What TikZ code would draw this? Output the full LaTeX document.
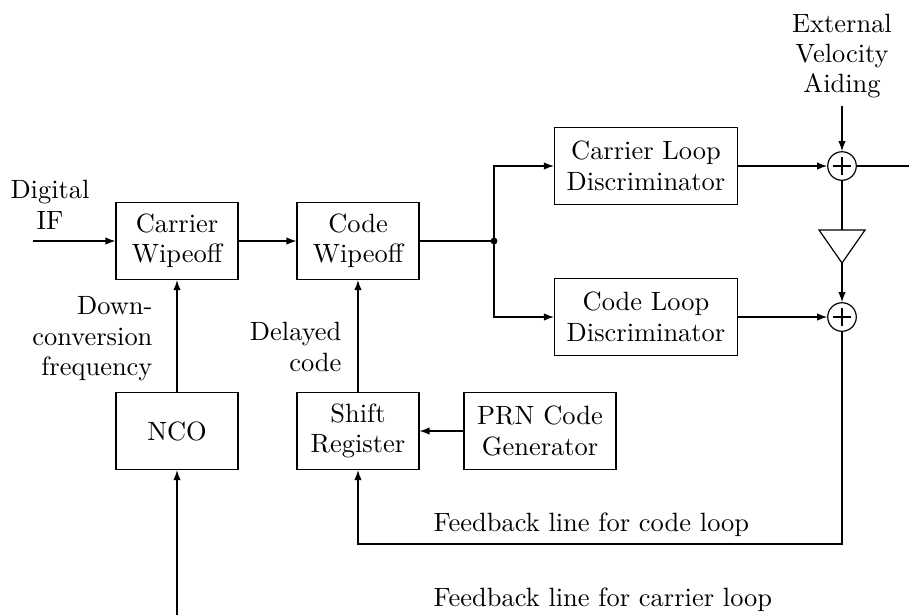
\documentclass[tikz,border=0pt]{standalone}
\usetikzlibrary{arrows.meta}
\begin{document}
\begin{tikzpicture}[x=0.3782pt,y=-0.3782pt,
  font=\fontsize{10pt}{11.5pt}\selectfont,
  line width=0.45pt,
  >={Latex[length=3.8pt,width=2.8pt]},
  block/.style={draw,align=center,inner sep=0pt,minimum height=29.1pt},
  smallblock/.style={block,minimum width=46.1pt},
  wideblock/.style={block,minimum width=69.2pt},
  sumnode/.style={draw,circle,minimum size=10.8pt,inner sep=0pt,
    path picture={
      \draw[line width=0.5pt]
        ([xshift=-3.4pt]path picture bounding box.center) -- ([xshift=3.4pt]path picture bounding box.center)
        ([yshift=-3.4pt]path picture bounding box.center) -- ([yshift=3.4pt]path picture bounding box.center);}},
  lbl/.style={align=center,inner sep=0pt}
]
\useasboundingbox (0,0) rectangle (909,615);

% processing blocks
\node[smallblock] (cw) at (177,241) {Carrier\\Wipeoff};
\node[smallblock] (codew) at (358,241) {Code\\Wipeoff};
\node[wideblock] (cld) at (646,166) {Carrier Loop\\Discriminator};
\node[wideblock] (cod) at (646,317) {Code Loop\\Discriminator};
\node[smallblock] (nco) at (177,431) {NCO};
\node[smallblock] (sr) at (358,431) {Shift\\Register};
\node[block,minimum width=57.5pt] (prn) at (540,431) {PRN Code\\Generator};

% summing junctions and gain stage
\node[sumnode] (s1) at (842,166) {};
\node[sumnode] (s2) at (842,317) {};
\coordinate (amptop) at (842,230);
\coordinate (ampbot) at (842,263);
\draw (819,230) -- (865,230) -- (ampbot) -- cycle;

% branch point
\coordinate (j) at (494,241);
\fill (j) circle[radius=1.3pt];

% labels
\node[lbl] (dif) at (50,205) {Digital\\IF};
\node[lbl] (eva) at (842,56) {External\\Velocity\\Aiding};
\node[lbl,align=right,anchor=east] (dcf) at (153,339) {Down-\\conversion\\frequency};
\node[lbl,align=right,anchor=east] (dly) at (342,347) {Delayed\\code};
\node[anchor=west,inner sep=0pt] (fbcl) at (433,525) {Feedback line for code loop};
\node[anchor=west,inner sep=0pt] (fbca) at (433,600) {Feedback line for carrier loop};

% free ends
\coordinate (ifin) at (33,241);
\coordinate (evain) at (842,106);
\coordinate (out) at (909,166);
\coordinate (fbc) at (842,544);
\coordinate (ncoin) at (177,615);

% signal flow
\draw[->] (ifin) -- (cw);
\draw[->] (cw) -- (codew);
\draw (codew) -- (j);
\draw[->] (j) |- (cld);
\draw[->] (j) |- (cod);
\draw[->] (cld) -- (s1);
\draw[->] (cod) -- (s2);
\draw[->] (evain) -- (s1);
\draw (s1) -- (out);
\draw (s1) -- (amptop);
\draw[->] (ampbot) -- (s2);
\draw[->] (s2) -- (fbc) -| (sr.south);
\draw[->] (prn) -- (sr);
\draw[->] (sr) -- (codew);
\draw[->] (nco) -- (cw);
\draw[->] (ncoin) -- (nco);
\end{tikzpicture}
\end{document}
